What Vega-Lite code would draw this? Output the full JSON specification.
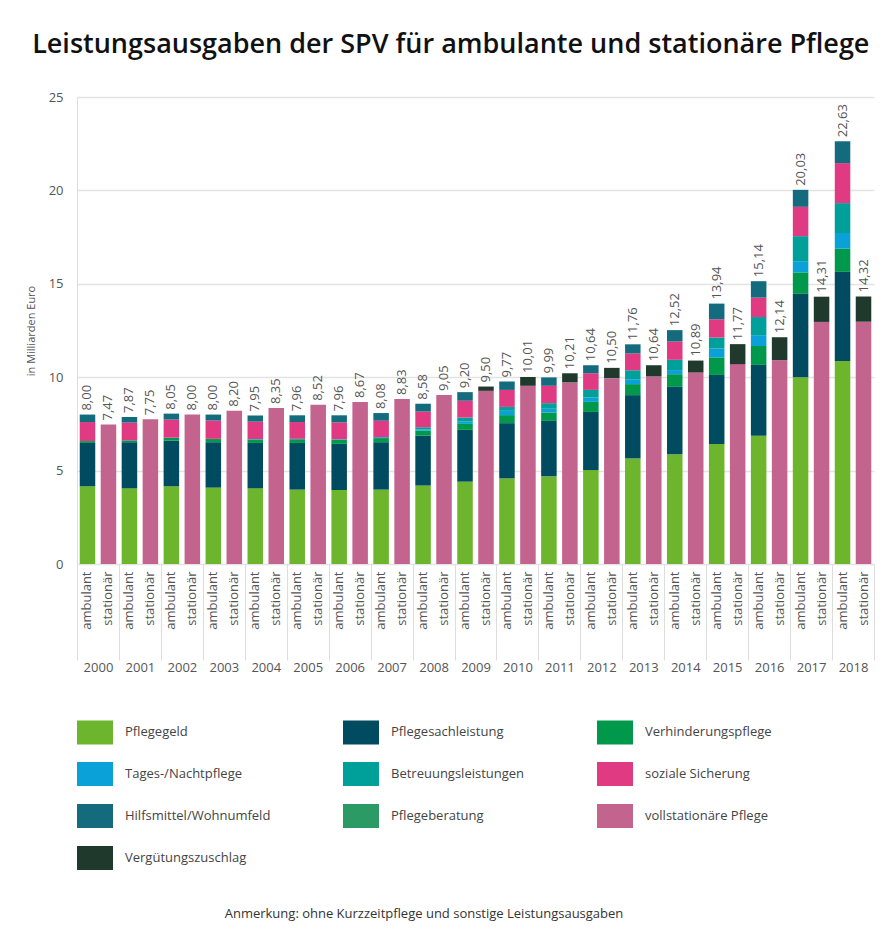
{
  "$schema": "https://vega.github.io/schema/vega-lite/v6.json",
  "width": 797,
  "height": 467,
  "padding": {"left": 25, "top": 31, "right": 5, "bottom": 5},
  "background": "white",
  "title": {
    "text": "Leistungsausgaben der SPV für ambulante und stationäre Pflege",
    "anchor": "start",
    "frame": "bounds",
    "font": "Open Sans",
    "fontSize": 27,
    "fontWeight": 600,
    "color": "#111111",
    "dx": 7,
    "offset": 32
  },
  "data": {
    "values": [
      {"year": "2000", "bar": "2000 ambulant", "total": 8.00, "Pflegegeld": 4.16, "Pflegesachleistung": 2.32, "Verhinderungspflege": 0.10, "soziale Sicherung": 1.02, "Hilfsmittel/Wohnumfeld": 0.40},
      {"year": "2000", "bar": "2000 stationär", "total": 7.47, "vollstationäre Pflege": 7.47},
      {"year": "2001", "bar": "2001 ambulant", "total": 7.87, "Pflegegeld": 4.05, "Pflegesachleistung": 2.47, "Verhinderungspflege": 0.10, "soziale Sicherung": 0.95, "Hilfsmittel/Wohnumfeld": 0.30},
      {"year": "2001", "bar": "2001 stationär", "total": 7.75, "vollstationäre Pflege": 7.75},
      {"year": "2002", "bar": "2002 ambulant", "total": 8.05, "Pflegegeld": 4.16, "Pflegesachleistung": 2.45, "Verhinderungspflege": 0.14, "Tages-/Nachtpflege": 0.01, "soziale Sicherung": 0.97, "Hilfsmittel/Wohnumfeld": 0.32},
      {"year": "2002", "bar": "2002 stationär", "total": 8.00, "vollstationäre Pflege": 8.00},
      {"year": "2003", "bar": "2003 ambulant", "total": 8.00, "Pflegegeld": 4.09, "Pflegesachleistung": 2.43, "Verhinderungspflege": 0.17, "Tages-/Nachtpflege": 0.01, "soziale Sicherung": 0.98, "Hilfsmittel/Wohnumfeld": 0.32},
      {"year": "2003", "bar": "2003 stationär", "total": 8.20, "vollstationäre Pflege": 8.20},
      {"year": "2004", "bar": "2004 ambulant", "total": 7.95, "Pflegegeld": 4.05, "Pflegesachleistung": 2.43, "Verhinderungspflege": 0.19, "Tages-/Nachtpflege": 0.02, "soziale Sicherung": 0.93, "Hilfsmittel/Wohnumfeld": 0.33},
      {"year": "2004", "bar": "2004 stationär", "total": 8.35, "vollstationäre Pflege": 8.35},
      {"year": "2005", "bar": "2005 ambulant", "total": 7.96, "Pflegegeld": 3.98, "Pflegesachleistung": 2.50, "Verhinderungspflege": 0.20, "Tages-/Nachtpflege": 0.02, "soziale Sicherung": 0.90, "Hilfsmittel/Wohnumfeld": 0.36},
      {"year": "2005", "bar": "2005 stationär", "total": 8.52, "vollstationäre Pflege": 8.52},
      {"year": "2006", "bar": "2006 ambulant", "total": 7.96, "Pflegegeld": 3.96, "Pflegesachleistung": 2.47, "Verhinderungspflege": 0.22, "Tages-/Nachtpflege": 0.03, "soziale Sicherung": 0.90, "Hilfsmittel/Wohnumfeld": 0.38},
      {"year": "2006", "bar": "2006 stationär", "total": 8.67, "vollstationäre Pflege": 8.67},
      {"year": "2007", "bar": "2007 ambulant", "total": 8.08, "Pflegegeld": 3.98, "Pflegesachleistung": 2.54, "Verhinderungspflege": 0.22, "Tages-/Nachtpflege": 0.05, "soziale Sicherung": 0.88, "Hilfsmittel/Wohnumfeld": 0.41},
      {"year": "2007", "bar": "2007 stationär", "total": 8.83, "vollstationäre Pflege": 8.83},
      {"year": "2008", "bar": "2008 ambulant", "total": 8.58, "Pflegegeld": 4.20, "Pflegesachleistung": 2.68, "Verhinderungspflege": 0.26, "Tages-/Nachtpflege": 0.06, "Betreuungsleistungen": 0.12, "soziale Sicherung": 0.84, "Hilfsmittel/Wohnumfeld": 0.42},
      {"year": "2008", "bar": "2008 stationär", "total": 9.05, "vollstationäre Pflege": 9.05},
      {"year": "2009", "bar": "2009 ambulant", "total": 9.20, "Pflegegeld": 4.41, "Pflegesachleistung": 2.77, "Verhinderungspflege": 0.32, "Tages-/Nachtpflege": 0.12, "Betreuungsleistungen": 0.22, "soziale Sicherung": 0.90, "Hilfsmittel/Wohnumfeld": 0.46},
      {"year": "2009", "bar": "2009 stationär", "total": 9.50, "vollstationäre Pflege": 9.27, "Vergütungszuschlag": 0.23},
      {"year": "2010", "bar": "2010 ambulant", "total": 9.77, "Pflegegeld": 4.58, "Pflegesachleistung": 2.96, "Verhinderungspflege": 0.43, "Tages-/Nachtpflege": 0.23, "Betreuungsleistungen": 0.21, "soziale Sicherung": 0.91, "Hilfsmittel/Wohnumfeld": 0.45},
      {"year": "2010", "bar": "2010 stationär", "total": 10.01, "vollstationäre Pflege": 9.54, "Vergütungszuschlag": 0.47},
      {"year": "2011", "bar": "2011 ambulant", "total": 9.99, "Pflegegeld": 4.69, "Pflegesachleistung": 2.97, "Verhinderungspflege": 0.45, "Tages-/Nachtpflege": 0.20, "Betreuungsleistungen": 0.30, "soziale Sicherung": 0.93, "Hilfsmittel/Wohnumfeld": 0.45},
      {"year": "2011", "bar": "2011 stationär", "total": 10.21, "vollstationäre Pflege": 9.72, "Vergütungszuschlag": 0.49},
      {"year": "2012", "bar": "2012 ambulant", "total": 10.64, "Pflegegeld": 5.03, "Pflegesachleistung": 3.11, "Verhinderungspflege": 0.54, "Tages-/Nachtpflege": 0.23, "Betreuungsleistungen": 0.41, "soziale Sicherung": 0.89, "Hilfsmittel/Wohnumfeld": 0.43},
      {"year": "2012", "bar": "2012 stationär", "total": 10.50, "vollstationäre Pflege": 9.95, "Vergütungszuschlag": 0.55},
      {"year": "2013", "bar": "2013 ambulant", "total": 11.76, "Pflegegeld": 5.65, "Pflegesachleistung": 3.39, "Verhinderungspflege": 0.59, "Tages-/Nachtpflege": 0.26, "Betreuungsleistungen": 0.48, "soziale Sicherung": 0.90, "Hilfsmittel/Wohnumfeld": 0.49},
      {"year": "2013", "bar": "2013 stationär", "total": 10.64, "vollstationäre Pflege": 10.04, "Vergütungszuschlag": 0.60},
      {"year": "2014", "bar": "2014 ambulant", "total": 12.52, "Pflegegeld": 5.88, "Pflegesachleistung": 3.60, "Verhinderungspflege": 0.68, "Tages-/Nachtpflege": 0.22, "Betreuungsleistungen": 0.55, "soziale Sicherung": 0.98, "Hilfsmittel/Wohnumfeld": 0.61},
      {"year": "2014", "bar": "2014 stationär", "total": 10.89, "vollstationäre Pflege": 10.25, "Vergütungszuschlag": 0.64},
      {"year": "2015", "bar": "2015 ambulant", "total": 13.94, "Pflegegeld": 6.42, "Pflegesachleistung": 3.70, "Verhinderungspflege": 0.94, "Tages-/Nachtpflege": 0.47, "Betreuungsleistungen": 0.59, "soziale Sicherung": 0.98, "Hilfsmittel/Wohnumfeld": 0.84},
      {"year": "2015", "bar": "2015 stationär", "total": 11.77, "vollstationäre Pflege": 10.70, "Vergütungszuschlag": 1.07},
      {"year": "2016", "bar": "2016 ambulant", "total": 15.14, "Pflegegeld": 6.86, "Pflegesachleistung": 3.80, "Verhinderungspflege": 1.01, "Tages-/Nachtpflege": 0.58, "Betreuungsleistungen": 0.97, "soziale Sicherung": 1.04, "Hilfsmittel/Wohnumfeld": 0.88},
      {"year": "2016", "bar": "2016 stationär", "total": 12.14, "vollstationäre Pflege": 10.91, "Vergütungszuschlag": 1.23},
      {"year": "2017", "bar": "2017 ambulant", "total": 20.03, "Pflegegeld": 10.00, "Pflegesachleistung": 4.46, "Verhinderungspflege": 1.15, "Tages-/Nachtpflege": 0.60, "Betreuungsleistungen": 1.34, "soziale Sicherung": 1.57, "Hilfsmittel/Wohnumfeld": 0.91},
      {"year": "2017", "bar": "2017 stationär", "total": 14.31, "vollstationäre Pflege": 12.96, "Vergütungszuschlag": 1.35},
      {"year": "2018", "bar": "2018 ambulant", "total": 22.63, "Pflegegeld": 10.87, "Pflegesachleistung": 4.77, "Verhinderungspflege": 1.24, "Tages-/Nachtpflege": 0.84, "Betreuungsleistungen": 1.60, "soziale Sicherung": 2.14, "Hilfsmittel/Wohnumfeld": 1.17},
      {"year": "2018", "bar": "2018 stationär", "total": 14.32, "vollstationäre Pflege": 12.97, "Vergütungszuschlag": 1.35}
    ]
  },
  "layer": [
    {
      "layer": [
        {
          "transform": [
            {"fold": ["Pflegegeld", "Pflegesachleistung", "Verhinderungspflege", "Tages-/Nachtpflege", "Betreuungsleistungen", "soziale Sicherung", "Hilfsmittel/Wohnumfeld", "Pflegeberatung", "vollstationäre Pflege", "Vergütungszuschlag"], "as": ["part", "value"]},
            {"filter": "isValid(datum.value) && datum.value > 0"},
            {"calculate": "indexof(['Pflegegeld', 'Pflegesachleistung', 'Verhinderungspflege', 'Tages-/Nachtpflege', 'Betreuungsleistungen', 'soziale Sicherung', 'Hilfsmittel/Wohnumfeld', 'Pflegeberatung', 'vollstationäre Pflege', 'Vergütungszuschlag'], datum.part)", "as": "stackOrder"}
          ],
          "mark": {"type": "bar"},
          "encoding": {
            "x": {
              "field": "bar", "type": "nominal",
              "scale": {"paddingInner": 0.26, "paddingOuter": 0.13},
              "axis": {
                "title": null, "orient": "bottom", "labelAngle": 270,
                "labelExpr": "split(datum.value, ' ')[1]",
                "ticks": false, "domain": false, "labelPadding": 7,
                "labelFontSize": 13, "labelColor": "#555555", "labelFont": "Open Sans"
              }
            },
            "y": {
              "field": "value", "type": "quantitative", "stack": "zero",
              "scale": {"domain": [0, 25], "nice": false},
              "axis": {
                "title": "in Milliarden Euro", "values": [0, 5, 10, 15, 20, 25],
                "grid": true, "gridColor": "#e3e3e3", "gridWidth": 1.5,
                "domain": true, "domainColor": "#dddddd", "ticks": false,
                "labelPadding": 14, "labelFontSize": 13, "labelColor": "#555555", "labelFont": "Open Sans",
                "titleFontSize": 11, "titleFontWeight": "normal", "titleColor": "#555555", "titleFont": "Open Sans", "titlePadding": 12
              }
            },
            "order": {"field": "stackOrder", "type": "quantitative", "sort": "ascending"},
            "color": {
              "field": "part", "type": "nominal",
              "sort": ["Pflegegeld", "Pflegesachleistung", "Verhinderungspflege", "Tages-/Nachtpflege", "Betreuungsleistungen", "soziale Sicherung", "Hilfsmittel/Wohnumfeld", "Pflegeberatung", "vollstationäre Pflege", "Vergütungszuschlag"],
              "scale": {
                "domain": ["Pflegegeld", "Pflegesachleistung", "Verhinderungspflege", "Tages-/Nachtpflege", "Betreuungsleistungen", "soziale Sicherung", "Hilfsmittel/Wohnumfeld", "Pflegeberatung", "vollstationäre Pflege", "Vergütungszuschlag"],
                "range": ["#6cb52d", "#004b5f", "#00984a", "#0aa0d8", "#00a09a", "#df3a82", "#156b7e", "#2c9a65", "#c3648f", "#1f3a2d"]
              },
              "legend": {
                "title": "Anmerkung: ohne Kurzzeitpflege und sonstige Leistungsausgaben",
                "orient": "bottom", "direction": "horizontal", "columns": 3,
                "symbolType": "M-1,-0.667H1V0.667H-1Z", "symbolSize": 1296,
                "symbolStrokeWidth": 0, "symbolOpacity": 1,
                "labelFontSize": 13, "labelColor": "#444444", "labelFont": "Open Sans", "labelOffset": 12, "labelLimit": 300,
                "rowPadding": 11, "columnPadding": 72, "offset": 40,
                "titleOrient": "bottom", "titleAnchor": "middle", "titlePadding": 38,
                "titleFontSize": 13, "titleFontWeight": "normal", "titleColor": "#333333", "titleFont": "Open Sans", "titleLimit": 800
              }
            }
          }
        },
        {
          "mark": {"type": "text", "angle": 270, "align": "left", "baseline": "middle", "dx": 4, "fontSize": 13, "font": "Open Sans", "color": "#555555"},
          "encoding": {
            "x": {"field": "bar", "type": "nominal"},
            "y": {"field": "total", "type": "quantitative"},
            "text": {"field": "total", "type": "quantitative", "format": ".2f"}
          }
        }
      ]
    },
    {
      "mark": {"type": "rule", "opacity": 0},
      "encoding": {
        "x": {
          "field": "year", "type": "ordinal",
          "scale": {"paddingInner": 0, "paddingOuter": 0},
          "axis": {
            "title": null, "orient": "bottom", "domain": false, "ticks": true,
            "tickBand": "extent", "tickSize": 96, "tickColor": "#dddddd", "tickWidth": 1,
            "labelPadding": 1, "labelAngle": 0, "labelFontSize": 13, "labelColor": "#555555", "labelFont": "Open Sans",
            "labelBaseline": "top", "grid": false
          }
        }
      }
    }
  ],
  "resolve": {"scale": {"x": "independent"}, "axis": {"x": "independent"}},
  "config": {
    "view": {"stroke": null},
    "locale": {"number": {"decimal": ",", "thousands": ".", "grouping": [3], "currency": ["", " €"]}}
  }
}
